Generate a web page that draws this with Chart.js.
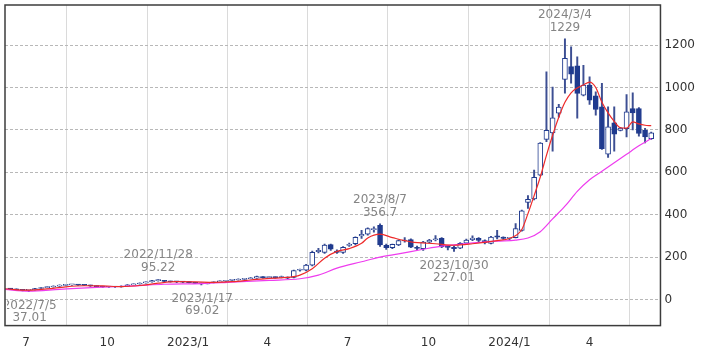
<!DOCTYPE html>
<html>
<head>
<meta charset="utf-8">
<script src="https://cdn.jsdelivr.net/npm/chart.js@4.4.1/dist/chart.umd.min.js"></script>
<style>
  html, body { margin: 0; padding: 0; background: #fff; }
</style>
</head>
<body>
<canvas id="chart" width="709" height="354"></canvas>
<script>
// weekly candles (week start dates)
const weeks = [
  '2022-06-13','2022-06-20','2022-06-27','2022-07-04','2022-07-11','2022-07-18','2022-07-25','2022-08-01','2022-08-08','2022-08-15',
  '2022-08-22','2022-08-29','2022-09-05','2022-09-12','2022-09-19','2022-09-26','2022-10-03','2022-10-10','2022-10-17','2022-10-24',
  '2022-10-31','2022-11-07','2022-11-14','2022-11-21','2022-11-28','2022-12-05','2022-12-12','2022-12-19','2022-12-26',
  '2023-01-02','2023-01-09','2023-01-16','2023-01-23','2023-01-30','2023-02-06','2023-02-13','2023-02-20','2023-02-27','2023-03-06',
  '2023-03-13','2023-03-20','2023-03-27','2023-04-03','2023-04-10','2023-04-17','2023-04-24','2023-05-01','2023-05-08','2023-05-15',
  '2023-05-22','2023-05-29','2023-06-05','2023-06-12','2023-06-19','2023-06-26','2023-07-03','2023-07-10','2023-07-17','2023-07-24',
  '2023-07-31','2023-08-07','2023-08-14','2023-08-21','2023-08-28','2023-09-04','2023-09-11','2023-09-18','2023-09-25','2023-10-02',
  '2023-10-09','2023-10-16','2023-10-23','2023-10-30','2023-11-06','2023-11-13','2023-11-20','2023-11-27','2023-12-04','2023-12-11',
  '2023-12-18','2023-12-25',
  '2024-01-01','2024-01-08','2024-01-15','2024-01-22','2024-01-29','2024-02-05','2024-02-12','2024-02-19','2024-02-26','2024-03-04',
  '2024-03-11','2024-03-18','2024-03-25','2024-04-01','2024-04-08','2024-04-15','2024-04-22','2024-04-29','2024-05-06','2024-05-13',
  '2024-05-20','2024-05-27','2024-06-03','2024-06-10'
];
const opens = [
  50,49,46,43,45,52,56,59,63,67, 69,70,68,67,64,61,59,60,59,63, 69,73,78,83,89,90,85,84,83,
  82,80,76,74,79,83,86,90,92,95, 98,101,107,103,106,103,106,104,138,138, 162,226,222,259,228,222,255,263,300,308,
  330,350,256,244,258,276,283,246,240,271, 282,288,249,246,242,266,282,288,278,264, 300,294,
  288,292,326,458,474,586,755,786,879,1038, 1098,1102,964,1011,961,909,685,833,798,806, 901,901,798,759
];
const highs = [
  53,51,47,46,53,58,61,65,69,72, 72,71,70,68,65,62,62,61,64,70, 74,79,84,90,95.22,91,87,86,85,
  84,81,78,80,84,88,91,94,97,100, 104,110,108,107,107,110,107,139,143,166, 228,242,262,262,234,250,266,296,326,338,
  343,356.7,262,262,282,292,286,252,275,284, 302,292,255,252,268,285,300,292,282,298, 326,296,
  292,358,422,490,610,740,1074,1002,920,1229, 1192,1145,1105,1050,980,1019,909,909,812,966, 975,905,807,790
];
const lows = [
  47,44,41,37.01,44,51,55,58,62,66, 67,66,65,62,59,57,57,57,58,62, 68,72,77,82,86,84,82,80,80,
  78,75,69.02,73,78,82,85,88,91,94, 97,100,101,101,101,102,98,102,134,135, 158,220,218,232,218,218,250,258,288,303,
  318,250,236,240,254,270,244,235,232,268, 276,245,234,227.01,240,262,278,272,262,262, 286,284,
  282,290,322,430,470,584,745,700,860,973, 1020,855,960,920,870,708,670,700,795,767, 800,770,738,755
];
const closes = [
  49,46,43,45,52,56,59,63,67,69, 70,68,67,64,61,59,60,59,63,69, 73,78,83,89,90,85,84,83,82,
  80,76,74,79,83,86,90,92,95,98, 102,108,103,104,103,107,101,136,141,163, 223,232,257,237,222,246,259,293,308,334,
  334,258,245,260,278,280,247,241,271,280, 286,248,246,240,265,280,290,279,268,294, 294,288,
  290,335,418,472,576,738,798,857,907,1137, 1063,972,1011,940,896,712,814,780,808,885, 880,783,767,786
];

// short moving average (red)
const maShortDates = [
  '2022-06-06','2022-07-04','2022-07-25','2022-08-15','2022-09-05','2022-09-26','2022-10-17','2022-11-07','2022-11-28','2022-12-19',
  '2023-01-09','2023-01-30','2023-02-20','2023-03-13','2023-04-03','2023-04-24','2023-05-08','2023-05-22','2023-06-05','2023-06-19',
  '2023-07-03','2023-07-17','2023-07-24','2023-08-07','2023-08-21','2023-09-11','2023-10-09','2023-10-30','2023-11-20','2023-12-18',
  '2024-01-01','2024-01-15','2024-01-22','2024-01-29','2024-02-05','2024-02-12','2024-02-19','2024-02-26','2024-03-04','2024-03-11',
  '2024-03-18','2024-03-25','2024-04-01','2024-04-08','2024-04-15','2024-04-22','2024-04-29','2024-05-06','2024-05-13','2024-05-20',
  '2024-05-27','2024-06-03','2024-06-10'
];
const maShort = [
  51,44,50,60,65,64,61,66,77,84,
  83,81,84,92,100,104,115,145,195,227,
  240,265,290,308,292,272,263,256,263,278,
  288,330,405,490,578,680,775,860,930,975,
  998,1012,1025,1000,930,880,840,810,808,838,
  828,822,820
];

// long moving average (magenta)
const maLongDates = [
  '2022-06-06','2022-07-04','2022-08-08','2022-09-19','2022-10-31','2022-12-05','2023-01-16','2023-02-20','2023-04-03','2023-05-08',
  '2023-05-29','2023-06-19','2023-07-17','2023-08-07','2023-08-28','2023-09-25','2023-10-16','2023-11-13','2023-12-18','2024-01-08',
  '2024-01-22','2024-02-05','2024-02-19','2024-03-04','2024-03-18','2024-04-01','2024-04-15','2024-04-29','2024-05-13','2024-05-27',
  '2024-06-10'
];
const maLong = [
  48,40,48,57,64,72,75,82,90,98,
  115,148,178,200,215,237,252,264,275,280,
  290,320,380,440,510,565,605,645,685,725,
  759
];

const xTickDates = ['2022-07-01','2022-10-01','2023-01-01','2023-04-01','2023-07-01','2023-10-01','2024-01-01','2024-04-01'];
const xTickLabels = ['7','10','2023/1','4','7','10','2024/1','4'];
const yTicks = [0, 200, 400, 600, 800, 1000, 1200];

// marked highs / lows
const markDates = ['2024-03-04','2023-08-07','2022-11-28','2023-01-17','2023-10-30','2022-07-05'];
const markValues = [1229, 356.7, 95.22, 69.02, 227.01, 37.01];
const markLabels = ['1229', '356.7', '95.22', '69.02', '227.01', '37.01'];
const markAbove = [true, true, true, false, false, false];

const base = Date.UTC(2022, 6, 1);
function dayNum(s) {
  const p = s.split('-');
  return (Date.UTC(+p[0], +p[1] - 1, +p[2]) - base) / 86400000;
}
function dateLabel(s) {
  const p = s.split('-');
  return `${+p[0]}/${+p[1]}/${+p[2]}`;
}

const NAVY = '#1f3a8e';
const WICK = '#3d4f93';
const FONT = 'DejaVu Sans';

const tickMap = {};
xTickDates.forEach((d, i) => { tickMap[dayNum(d)] = xTickLabels[i]; });

const framePlugin = {
  id: 'frame',
  afterDatasetsDraw(chart) {
    const { ctx, chartArea: a } = chart;
    ctx.save();
    ctx.strokeStyle = '#3c3c3c';
    ctx.lineWidth = 1.5;
    ctx.strokeRect(a.left, a.top, a.right - a.left, a.bottom - a.top);
    ctx.restore();

    const xs = chart.scales.x, ys = chart.scales.y;
    ctx.save();
    ctx.beginPath();
    ctx.rect(a.left + 2, 0, chart.width, chart.height);
    ctx.clip();
    ctx.font = `12px "${FONT}"`;
    ctx.fillStyle = '#858585';
    ctx.textAlign = 'center';
    ctx.textBaseline = 'middle';
    markDates.forEach((d, i) => {
      const px = xs.getPixelForValue(dayNum(d));
      const py = ys.getPixelForValue(markValues[i]);
      if (markAbove[i]) {
        ctx.fillText(dateLabel(d), px, py - 24);
        ctx.fillText(markLabels[i], px, py - 11);
      } else {
        ctx.fillText(dateLabel(d), px, py + 14);
        ctx.fillText(markLabels[i], px, py + 26);
      }
    });
    ctx.restore();
  }
};

new Chart(document.getElementById('chart'), {
  type: 'bar',
  data: {
    datasets: [
      {
        type: 'line',
        data: maShortDates.map((d, i) => ({ x: dayNum(d), y: maShort[i] })),
        borderColor: '#ee2a2a',
        borderWidth: 1.2,
        pointRadius: 0,
        cubicInterpolationMode: 'monotone',
        order: 1
      },
      {
        type: 'line',
        data: maLongDates.map((d, i) => ({ x: dayNum(d), y: maLong[i] })),
        borderColor: '#ee3cee',
        borderWidth: 1.2,
        pointRadius: 0,
        cubicInterpolationMode: 'monotone',
        order: 1
      },
      {
        data: weeks.map((w, i) => ({ x: dayNum(w), y: [opens[i], closes[i]] })),
        backgroundColor: weeks.map((w, i) => closes[i] >= opens[i] ? '#ffffff' : NAVY),
        borderColor: NAVY,
        borderWidth: 1,
        borderSkipped: false,
        barThickness: 5,
        minBarLength: 1,
        grouped: false,
        order: 2
      },
      {
        data: weeks.map((w, i) => ({ x: dayNum(w), y: [lows[i], highs[i]] })),
        backgroundColor: WICK,
        borderWidth: 0,
        barThickness: 1.3,
        grouped: false,
        order: 3
      }
    ]
  },
  options: {
    responsive: false,
    animation: false,
    layout: { padding: { left: 5, top: 5, right: 10, bottom: -6 } },
    plugins: { legend: { display: false }, tooltip: { enabled: false } },
    scales: {
      x: {
        type: 'linear',
        min: -24,
        max: 720.5,
        offset: false,
        grid: { color: '#dadada', lineWidth: 1, drawTicks: false },
        border: { display: false },
        afterBuildTicks: s => { s.ticks = xTickDates.map(d => ({ value: dayNum(d) })); },
        ticks: {
          autoSkip: false,
          maxRotation: 0,
          padding: 10,
          color: '#333',
          font: { family: FONT, size: 12 },
          callback: v => tickMap[v] || ''
        }
      },
      y: {
        position: 'right',
        min: -123,
        max: 1389,
        grid: { color: '#b8b8b8', lineWidth: 1, drawTicks: false },
        border: { display: false, dash: [3, 2] },
        afterBuildTicks: s => { s.ticks = yTicks.map(v => ({ value: v })); },
        afterFit: s => { s.paddingTop = 0; s.paddingBottom = 0; },
        ticks: {
          padding: 4,
          color: '#333',
          font: { family: FONT, size: 12 },
          callback: v => String(v)
        }
      }
    }
  },
  plugins: [framePlugin]
});
</script>
</body>
</html>
